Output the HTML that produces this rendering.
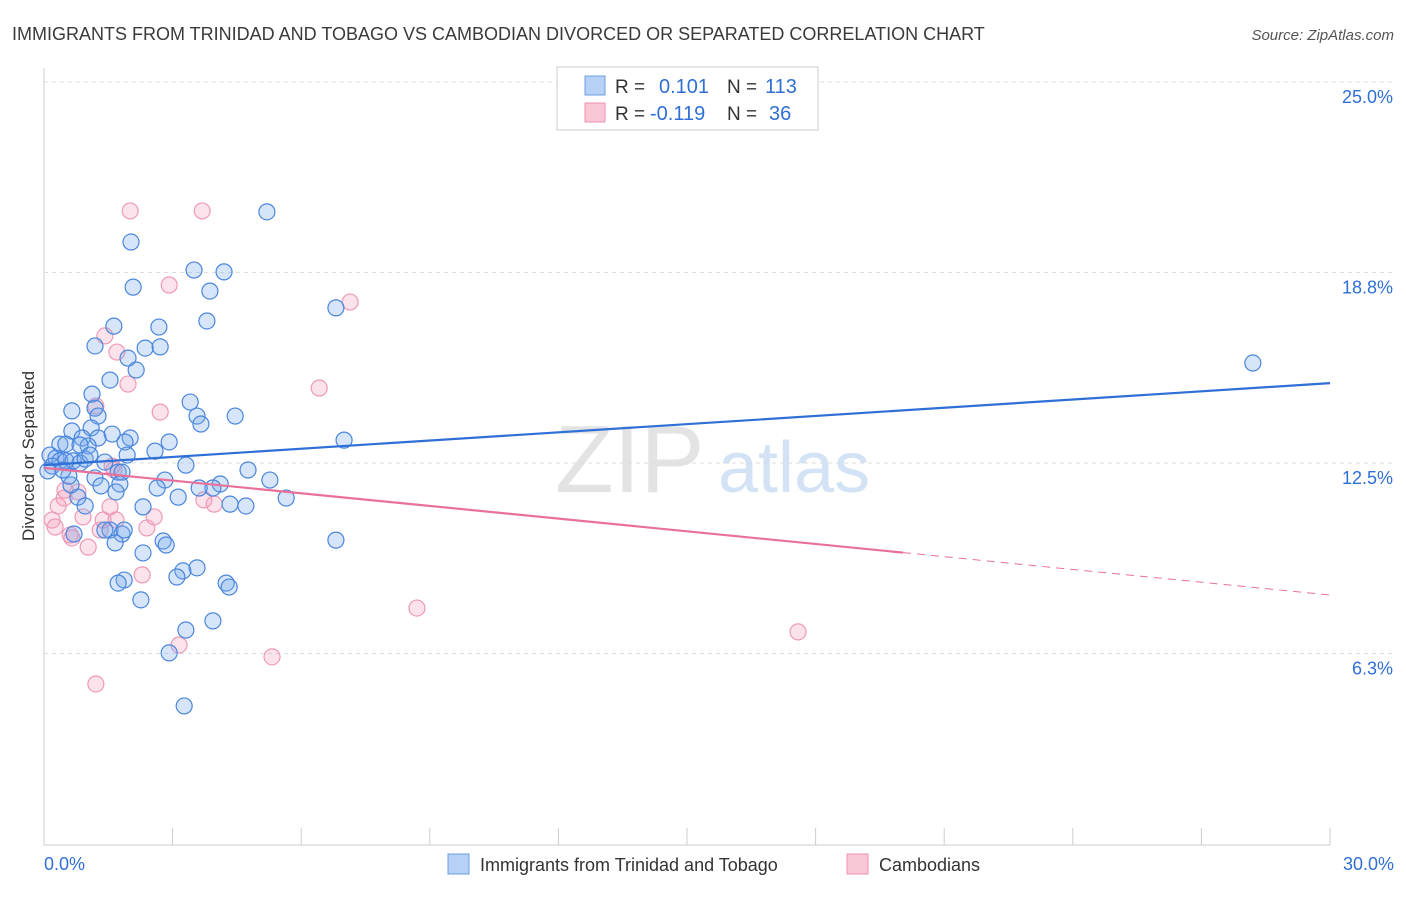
<!DOCTYPE html>
<html><head><meta charset="utf-8"><style>
body{margin:0;background:#fff;font-family:"Liberation Sans",sans-serif;}
svg text{font-family:"Liberation Sans",sans-serif;}
</style></head><body>
<svg id="chart" width="1406" height="892" xmlns="http://www.w3.org/2000/svg">
<text x="12" y="40" font-size="18" fill="#3a3a3a">IMMIGRANTS FROM TRINIDAD AND TOBAGO VS CAMBODIAN DIVORCED OR SEPARATED CORRELATION CHART</text>
<text x="1394" y="40" font-size="15" fill="#555" font-style="italic" text-anchor="end">Source: ZipAtlas.com</text>
<text transform="translate(34,456) rotate(-90)" font-size="17" fill="#333" text-anchor="middle">Divorced or Separated</text>
<g id="grid"></g>
<text x="555" y="492" font-size="96" fill="#ddd" font-family="Liberation Serif" opacity="0.8">ZIP</text>
<text x="718" y="492" font-size="72" fill="#c9dcf2" opacity="0.8">atlas</text>
<g id="points"></g>
<g id="lines"></g>
<g>
<rect x="557" y="67" width="261" height="63" fill="#fff" stroke="#ccc"/>
<rect x="585" y="76" width="20" height="19" fill="#b6d1f5" stroke="#6a9fe0"/>
<rect x="585" y="103" width="20" height="19" fill="#f9c6d6" stroke="#ee92b0"/>
<text x="615" y="93" font-size="19" fill="#333">R =</text>
<text x="659" y="93" font-size="20" fill="#2f6fd6">0.101</text>
<text x="727" y="93" font-size="19" fill="#333">N =</text>
<text x="765" y="93" font-size="20" fill="#2f6fd6">113</text>
<text x="615" y="120" font-size="19" fill="#333">R =</text>
<text x="650" y="120" font-size="20" fill="#2f6fd6">-0.119</text>
<text x="727" y="120" font-size="19" fill="#333">N =</text>
<text x="769" y="120" font-size="20" fill="#2f6fd6">36</text>
</g>
<g>
<rect x="448" y="854" width="21" height="20" fill="#b6d1f5" stroke="#6a9fe0"/>
<text x="480" y="871" font-size="18" fill="#333">Immigrants from Trinidad and Tobago</text>
<rect x="847" y="854" width="21" height="20" fill="#f9c6d6" stroke="#ee92b0"/>
<text x="879" y="871" font-size="18" fill="#333">Cambodians</text>
</g>
</svg>
<script>
const blueX=[5.20,2.03,3.50,4.20,2.08,3.87,6.81,3.80,1.63,2.68,1.19,2.36,2.71,1.96,2.15,28.20,1.54,1.12,3.41,0.65,1.19,1.26,3.57,4.46,3.66,0.65,1.10,1.59,2.01,0.37,0.51,0.89,1.26,1.03,1.89,2.92,7.00,2.59,1.94,0.14,0.28,0.37,0.51,0.68,0.84,0.96,1.42,3.31,0.19,0.09,1.73,1.82,4.76,1.19,5.27,2.82,2.64,1.33,1.77,1.68,4.11,3.94,3.62,3.13,0.79,5.65,4.34,4.71,0.96,2.31,1.54,1.82,1.42,1.87,2.78,1.66,2.85,6.81,2.31,3.57,3.24,3.10,1.87,1.73,4.25,4.32,2.26,3.94,3.31,2.92,3.27,0.70,0.63,0.58,0.84,0.44,1.07];
const blueY=[20.74,19.75,18.83,18.77,18.27,18.14,17.59,17.16,16.99,16.96,16.34,16.27,16.31,15.94,15.55,15.78,15.22,14.76,14.50,14.21,14.30,14.04,14.04,14.04,13.78,13.55,13.65,13.45,13.32,13.12,13.12,13.32,13.32,13.06,13.19,13.19,13.25,12.89,12.76,12.76,12.66,12.57,12.57,12.57,12.50,12.63,12.53,12.43,12.40,12.24,12.20,12.20,12.27,12.01,11.94,11.94,11.68,11.75,11.81,11.55,11.81,11.68,11.68,11.38,11.38,11.35,11.15,11.09,11.09,11.06,10.30,10.17,10.30,10.30,9.94,9.88,9.81,9.97,9.55,9.06,8.96,8.76,8.66,8.56,8.56,8.43,8.01,7.32,7.02,6.27,4.53,10.17,11.78,12.07,13.09,12.27,12.76];
const pinkX=[2.01,3.69,2.92,7.14,1.42,1.70,1.96,6.42,2.71,1.21,0.79,1.59,1.63,0.47,0.91,1.38,0.33,0.19,0.26,0.61,0.65,1.03,2.40,2.57,1.68,2.29,3.73,3.97,1.54,8.70,17.59,3.15,5.32,1.21,0.49,1.31];
const pinkY=[20.77,20.77,18.34,17.78,16.67,16.14,15.09,14.96,14.17,14.37,11.55,12.40,12.27,11.35,10.73,10.63,11.09,10.63,10.40,10.14,10.04,9.74,10.37,10.73,10.63,8.83,11.29,11.15,11.06,7.74,6.96,6.53,6.14,5.25,11.61,10.30];
const blueTrendX=[0,30];
const blueTrendY=[12.43,15.12];
const pinkTrendX=[0,20.04,30];
const pinkTrendY=[12.34,9.56,8.17];
const yTicks=[25,18.75,12.5,6.25];
const yTickLabels=["25.0%","18.8%","12.5%","6.3%"];
const xTicks=[0,3,6,9,12,15,18,21,24,27,30];

const NS="http://www.w3.org/2000/svg";
const sx=v=>44+v*1286/30;
const sy=v=>844-v*30.48;
function mk(tag,attrs,parent){const e=document.createElementNS(NS,tag);for(const k in attrs)e.setAttribute(k,attrs[k]);parent.appendChild(e);return e;}
const grid=document.getElementById('grid');
const ax=mk('line',{x1:44,y1:68,x2:44,y2:845,stroke:'#ccc'},grid);


const bx=mk('line',{x1:44,y1:845,x2:1330,y2:845,stroke:'#ccc'},grid);


yTicks.forEach((t,i)=>{
  const l=mk('line',{x1:44,y1:sy(t),x2:1394,y2:sy(t),stroke:'#ddd','stroke-dasharray':'4,4'},grid);
  
  
  const tx=mk('text',{x:1393,y:sy(t)+21,'font-size':18,fill:'#2f6fd6','text-anchor':'end'},grid);
  tx.textContent=yTickLabels[i];
  
  
});
xTicks.forEach(t=>{
  const l=mk('line',{x1:sx(t),y1:828,x2:sx(t),y2:845,stroke:'#ccc'},grid);
  
  
});
const x0=mk('text',{x:44,y:870,'font-size':18,fill:'#2f6fd6'},grid);x0.textContent="0.0%";


const x1=mk('text',{x:1394,y:870,'font-size':18,fill:'#2f6fd6','text-anchor':'end'},grid);x1.textContent="30.0%";



const pts=document.getElementById('points');
pinkX.forEach((v,i)=>{
  const c=mk('circle',{cx:sx(v),cy:sy(pinkY[i]),r:8,fill:'rgba(244,160,190,0.3)',stroke:'#ee9ab6','stroke-width':1.2},pts);
  
  
});
blueX.forEach((v,i)=>{
  const c=mk('circle',{cx:sx(v),cy:sy(blueY[i]),r:8,fill:'rgba(120,170,235,0.3)',stroke:'#4a86dd','stroke-width':1.2},pts);
  
  
});
const lines=document.getElementById('lines');
const bl=mk('line',{x1:sx(blueTrendX[0]),y1:sy(blueTrendY[0]),x2:sx(blueTrendX[1]),y2:sy(blueTrendY[1]),stroke:'#2f6fd6','stroke-width':2.2},lines);


const pl=mk('line',{x1:sx(pinkTrendX[0]),y1:sy(pinkTrendY[0]),x2:sx(pinkTrendX[1]),y2:sy(pinkTrendY[1]),stroke:'#e8709a','stroke-width':2.2},lines);


const pd=mk('line',{x1:sx(pinkTrendX[1]),y1:sy(pinkTrendY[1]),x2:sx(pinkTrendX[2]),y2:sy(pinkTrendY[2]),stroke:'#e8709a','stroke-width':1,'stroke-dasharray':'8,6'},lines);


</script>
</body></html>
